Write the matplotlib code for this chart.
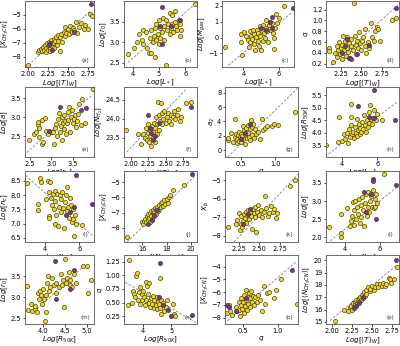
import numpy as np
import matplotlib.pyplot as plt

# ---- data (yellow = main sample, purple = highlighted) ----
# (a) [X_CH3CN] vs Log<T>_W
xa = [2.00,2.12,2.14,2.16,2.18,2.19,2.20,2.21,2.22,2.23,2.24,2.25,2.25,2.26,2.27,2.28,2.28,2.29,2.30,2.31,2.32,2.33,2.34,2.35,2.36,2.37,2.38,2.40,2.40,2.42,2.43,2.45,2.46,2.47,2.48,2.50,2.52,2.53,2.55,2.57,2.58,2.60,2.62,2.64,2.66,2.70,2.72,2.75,2.78,2.80]
ya = [-8.60,-7.65,-7.55,-7.45,-7.60,-7.30,-7.50,-7.20,-7.70,-7.40,-7.05,-7.55,-7.25,-6.95,-7.35,-7.60,-7.10,-6.80,-7.25,-7.00,-6.75,-7.40,-6.90,-6.60,-7.15,-6.45,-6.85,-7.60,-6.60,-6.35,-6.95,-6.20,-5.85,-6.55,-6.30,-6.05,-6.40,-5.80,-6.20,-5.95,-6.10,-5.50,-6.30,-5.90,-5.60,-6.00,-5.70,-5.98,-4.90,-5.05]
pxa = [2.79,2.28,2.30,2.58,2.26]
pya = [-4.20,-7.00,-7.55,-6.25,-7.20]

# (b) Log r0 vs Log L*
xb = [3.80,4.05,4.15,4.25,4.35,4.40,4.40,4.50,4.55,4.60,4.65,4.70,4.70,4.75,4.80,4.85,4.85,4.90,4.90,4.95,5.00,5.00,5.05,5.05,5.10,5.15,5.20,5.20,5.25,5.25,5.30,5.35,5.40,5.40,5.45,5.50,5.50,5.55,5.60,5.60,5.65,5.70,5.75,5.80,5.85,5.80,6.38]
yb = [2.72,2.85,3.00,3.20,3.05,2.95,3.30,3.25,2.85,2.75,3.10,3.30,2.75,3.00,3.15,2.65,3.35,3.05,3.45,3.20,2.95,3.55,3.10,3.35,3.25,3.60,3.40,3.05,2.45,3.55,3.30,3.45,3.70,3.20,3.35,3.65,3.45,3.25,3.50,3.75,3.40,3.30,3.55,3.45,3.30,3.15,3.93]
pxb = [5.10,5.10,5.80,5.05,5.45]
pyb = [3.85,2.95,3.55,3.40,3.40]

# (c) Log M_gas vs Log L*
xc = [2.95,3.85,3.85,3.95,4.05,4.15,4.25,4.30,4.35,4.40,4.45,4.50,4.55,4.60,4.60,4.65,4.70,4.75,4.80,4.85,4.90,4.95,4.95,5.00,5.05,5.10,5.10,5.15,5.20,5.25,5.30,5.35,5.40,5.45,5.50,5.55,5.60,5.65,5.70,5.75,5.80,5.85,5.90,6.00,6.30]
yc = [-0.60,-0.30,0.25,-1.10,0.35,0.10,-0.15,-0.60,0.40,-0.30,0.10,-0.10,0.45,-0.40,0.20,-0.75,0.05,0.50,-0.20,0.30,-0.50,0.10,0.70,-0.75,0.40,-0.20,0.80,0.30,0.00,0.60,1.10,0.40,-0.30,0.80,1.00,0.50,0.90,0.30,-0.70,0.00,0.60,1.50,0.90,1.20,2.00]
pxc = [6.80,5.60,5.50,5.25,5.60,5.00]
pyc = [1.85,1.30,0.95,0.45,0.60,0.60]

# (d) q vs Log<T>_W
xd = [2.11,2.11,2.15,2.18,2.20,2.21,2.22,2.23,2.24,2.25,2.26,2.27,2.28,2.29,2.30,2.31,2.32,2.33,2.34,2.35,2.36,2.37,2.38,2.40,2.41,2.42,2.43,2.44,2.45,2.46,2.47,2.48,2.50,2.51,2.52,2.54,2.55,2.56,2.58,2.60,2.62,2.63,2.65,2.67,2.69,2.71,2.73,2.88,2.92]
yd = [0.50,0.44,0.23,0.40,0.33,0.52,0.45,0.60,0.38,0.50,0.28,0.55,0.72,0.45,0.62,0.35,0.50,0.70,0.42,0.58,0.30,0.52,0.65,0.45,1.32,0.72,0.55,0.38,0.62,0.50,0.78,0.58,0.45,0.62,0.70,0.52,0.85,0.40,0.60,0.50,0.96,0.70,0.62,0.80,0.88,0.85,0.62,1.00,1.05]
pxd = [2.92,2.60,2.35,2.27,2.30,2.33,2.45,2.38]
pyd = [1.23,0.55,0.30,0.40,0.52,0.66,0.38,0.28]

# (e) Log a vs Log r0
xe = [2.47,2.60,2.65,2.68,2.68,2.70,2.72,2.77,2.79,2.80,2.85,2.88,2.92,2.98,3.03,3.05,3.08,3.10,3.12,3.15,3.17,3.20,3.22,3.24,3.25,3.27,3.30,3.30,3.32,3.34,3.36,3.38,3.40,3.42,3.44,3.46,3.48,3.50,3.52,3.55,3.58,3.60,3.62,3.65,3.70,3.73,3.78,3.97]
ye = [2.40,2.55,2.62,2.80,2.88,2.48,2.72,2.30,2.92,2.35,2.98,2.64,2.55,2.60,2.60,2.30,2.72,2.82,2.50,2.95,3.10,2.60,2.78,2.40,3.00,2.85,3.05,2.70,2.90,2.55,2.86,3.15,2.94,3.28,2.62,3.00,3.18,2.85,2.95,3.05,2.73,2.90,3.08,3.34,2.80,3.47,2.86,3.75]
pxe = [3.20,3.69,3.82,2.95]
pye = [3.27,3.20,3.25,2.65]

# (f) Log N_H2 vs Log<T>_W
xf = [1.93,2.10,2.15,2.18,2.20,2.22,2.23,2.24,2.25,2.26,2.27,2.28,2.29,2.30,2.31,2.32,2.33,2.34,2.35,2.36,2.37,2.38,2.39,2.40,2.41,2.42,2.43,2.44,2.45,2.46,2.48,2.50,2.52,2.54,2.55,2.57,2.58,2.60,2.62,2.64,2.66,2.68,2.70,2.72,2.79,2.86]
yf = [23.70,23.60,23.35,23.60,23.50,23.75,23.45,23.62,23.85,23.40,23.55,23.70,23.30,23.80,23.50,23.65,23.90,23.40,23.75,24.05,23.60,23.85,24.45,24.10,23.70,23.95,24.40,24.15,23.85,24.00,24.20,23.90,24.05,24.15,23.95,24.10,23.85,24.05,24.20,24.00,24.10,24.25,23.95,24.05,24.40,24.45]
pxf = [2.87,2.27,2.29,2.31,2.40,2.35,2.25]
pyf = [24.30,23.75,23.62,23.45,23.90,23.55,24.10]

# (g) a2 vs q
xg = [0.30,0.30,0.35,0.38,0.40,0.41,0.42,0.43,0.44,0.45,0.46,0.47,0.48,0.49,0.50,0.51,0.52,0.53,0.54,0.55,0.56,0.57,0.58,0.59,0.60,0.61,0.62,0.63,0.64,0.65,0.66,0.67,0.68,0.70,0.72,0.75,0.78,0.80,0.82,0.85,0.88,0.95,0.98,1.03,1.28]
yg = [1.40,1.70,2.40,1.20,4.40,1.80,2.30,1.00,1.60,2.10,1.30,2.60,1.80,2.30,1.10,2.00,3.30,1.60,2.80,0.80,2.20,3.10,1.70,2.40,3.50,1.90,2.90,1.40,4.20,3.20,2.10,3.60,1.70,3.00,2.20,2.60,1.50,4.40,2.80,3.10,3.30,3.40,3.60,3.50,5.30]
pxg = [0.62,0.50,0.55]
pyg = [3.70,1.60,2.40]

# (h) Log R50K vs Log L*
xh = [3.15,3.80,3.85,4.00,4.15,4.20,4.30,4.35,4.40,4.45,4.50,4.55,4.55,4.60,4.65,4.70,4.75,4.80,4.85,4.85,4.90,4.95,5.00,5.05,5.10,5.15,5.20,5.25,5.30,5.35,5.40,5.45,5.50,5.55,5.60,5.65,5.70,5.75,5.80,5.90,6.00,6.25]
yh = [3.52,3.65,4.65,3.70,3.95,3.75,4.00,3.62,4.15,3.85,4.65,4.30,5.15,3.95,4.05,3.80,4.25,4.00,4.55,3.90,4.10,4.35,3.95,4.20,4.05,4.45,4.15,4.70,4.30,4.05,4.50,4.25,4.85,4.40,5.10,4.55,4.35,4.60,4.90,4.50,4.75,4.50]
pxh = [5.82,6.95,4.92,5.78,5.50]
pyh = [5.72,4.51,5.05,4.60,4.62]

# (i) Log n_c vs Log L*
xi = [2.91,3.60,3.60,3.69,3.75,4.05,4.15,4.20,4.20,4.25,4.30,4.35,4.40,4.45,4.50,4.55,4.55,4.60,4.65,4.70,4.75,4.80,4.85,4.90,4.95,5.00,5.05,5.10,5.15,5.20,5.25,5.30,5.35,5.40,5.45,5.50,5.55,5.60,5.65,5.70,5.75,5.80,6.15]
yi = [8.41,7.70,7.48,8.62,8.45,7.85,8.50,7.25,7.20,8.10,8.45,7.90,7.65,8.05,7.50,7.00,8.15,7.80,7.30,8.05,6.90,7.60,8.00,7.40,7.85,8.10,7.55,6.85,7.75,8.00,7.45,8.30,7.60,7.20,7.90,7.65,7.05,7.50,7.15,6.55,7.30,7.00,6.95]
pxi = [5.80,6.76,5.45,5.20,5.70]
pyi = [8.70,7.70,7.40,7.30,7.60]

# (j) [X_CH3CN] vs Log N_CH3CN
xj = [14.75,15.95,16.05,16.15,16.20,16.30,16.40,16.45,16.50,16.55,16.60,16.65,16.70,16.75,16.80,16.85,16.90,16.95,17.00,17.05,17.10,17.15,17.20,17.30,17.35,17.40,17.50,17.55,17.65,17.70,17.80,17.90,18.00,18.10,18.20,18.30,18.50,19.40]
yj = [-8.60,-7.60,-7.75,-7.55,-7.40,-7.65,-7.25,-7.50,-7.10,-7.35,-7.60,-7.00,-7.20,-6.90,-7.45,-7.05,-6.80,-7.25,-6.95,-6.70,-7.10,-6.85,-6.60,-6.90,-6.50,-6.75,-6.40,-6.65,-6.30,-6.55,-6.20,-6.45,-6.10,-6.35,-6.00,-5.85,-5.50,-5.20]
pxj = [20.07,16.50,17.00,16.80,17.20]
pyj = [-4.45,-7.74,-7.16,-7.50,-6.80]

# (k) X_b vs Log<T>_W
xk = [2.12,2.21,2.23,2.25,2.26,2.27,2.28,2.29,2.30,2.31,2.32,2.33,2.34,2.35,2.36,2.37,2.38,2.40,2.41,2.42,2.43,2.44,2.45,2.46,2.47,2.48,2.50,2.52,2.53,2.55,2.57,2.58,2.60,2.62,2.64,2.66,2.68,2.70,2.72,2.87,2.93]
yk = [-7.55,-7.35,-7.15,-6.80,-7.70,-7.40,-6.95,-7.55,-7.20,-6.85,-7.05,-6.70,-7.30,-6.90,-6.60,-7.10,-6.75,-6.95,-7.65,-6.55,-6.80,-7.00,-6.45,-7.80,-6.70,-6.35,-6.90,-6.60,-7.00,-6.75,-5.85,-6.50,-6.95,-6.80,-6.40,-6.70,-6.55,-7.05,-6.80,-5.30,-5.00]
pxk = [2.38,2.36,2.30]
pyk = [-6.55,-6.85,-7.40]

# (l) Log a vs Log L*
xl = [3.11,3.81,3.81,3.81,4.10,4.30,4.35,4.40,4.45,4.50,4.55,4.60,4.65,4.70,4.75,4.80,4.85,4.90,4.95,5.00,5.05,5.10,5.15,5.20,5.25,5.30,5.35,5.40,5.45,5.50,5.55,5.60,5.65,5.70,5.75,5.80,5.85,6.25]
yl = [2.28,2.63,2.12,2.02,2.82,2.30,2.45,2.60,2.98,2.35,2.75,3.00,2.50,2.85,2.65,3.05,2.40,2.90,2.55,3.10,2.75,2.30,2.95,3.20,2.60,2.85,3.25,2.70,3.00,3.15,2.85,3.30,2.80,3.05,2.85,3.20,2.95,3.75]
pxl = [6.93,5.60,5.60,5.80,5.50,5.10,5.20]
pyl = [3.45,3.62,3.55,2.50,3.20,3.25,2.70]

# (m) Log r0 vs Log R50K
xm = [3.62,3.65,3.72,3.75,3.80,3.82,3.85,3.88,3.90,3.92,3.95,3.97,4.00,4.02,4.03,4.05,4.05,4.08,4.10,4.12,4.15,4.20,4.25,4.28,4.30,4.35,4.40,4.42,4.45,4.48,4.50,4.52,4.55,4.58,4.60,4.62,4.65,4.70,4.75,4.90,5.00,5.02,5.10]
ym = [3.27,2.70,2.85,2.68,2.72,2.80,2.65,3.10,2.95,3.15,3.05,2.85,3.20,2.95,2.45,3.05,2.65,3.35,3.50,3.15,3.25,3.45,3.30,3.10,3.35,3.25,3.55,3.30,3.40,2.78,3.90,3.35,3.45,3.60,3.30,3.40,3.25,3.55,3.35,3.75,3.75,3.10,3.40]
pxm = [4.27,4.70,4.62,4.30]
pym = [3.85,3.65,3.20,2.95]

# (n) q vs Log R50K
xn = [3.50,3.48,3.60,3.65,3.68,3.72,3.75,3.80,3.82,3.85,3.88,3.90,3.95,3.98,4.00,4.05,4.08,4.10,4.12,4.15,4.18,4.20,4.22,4.25,4.28,4.30,4.35,4.38,4.40,4.45,4.48,4.50,4.52,4.55,4.58,4.60,4.62,4.65,4.70,4.75,4.80,4.85,5.05,5.10,5.12]
yn = [1.27,0.45,0.50,0.72,0.65,0.60,0.98,1.04,0.55,0.70,0.78,0.48,0.65,0.55,0.72,0.60,0.45,0.88,0.55,0.80,0.65,0.50,0.85,0.42,0.58,0.48,0.62,0.40,0.55,0.45,0.60,0.38,0.52,0.48,0.95,0.40,0.55,0.30,0.50,0.35,0.42,0.55,0.47,0.30,0.25]
pxn = [4.60,5.72,4.88,5.00,4.55,4.70]
pyn = [1.22,0.28,0.37,0.25,0.60,0.45]

# (o) [X_CH3CN] vs q
xo = [0.27,0.30,0.32,0.35,0.40,0.42,0.44,0.45,0.46,0.47,0.48,0.49,0.50,0.51,0.52,0.53,0.54,0.55,0.56,0.57,0.58,0.59,0.60,0.61,0.62,0.63,0.64,0.66,0.68,0.70,0.72,0.75,0.78,0.80,0.82,0.85,0.88,0.95,0.98,1.05,1.27]
yo = [-7.60,-7.00,-7.50,-7.80,-7.20,-7.50,-6.80,-7.40,-7.90,-7.00,-6.50,-7.30,-6.80,-7.60,-6.20,-7.10,-6.60,-5.80,-7.40,-6.40,-6.90,-6.10,-7.20,-6.50,-5.90,-6.80,-6.30,-7.00,-6.40,-6.80,-6.20,-6.60,-7.50,-5.50,-6.90,-6.10,-6.00,-6.50,-5.80,-5.00,-6.90]
pxo = [1.20,0.27,0.30,0.40,0.55]
pyo = [-4.25,-7.05,-7.20,-7.50,-6.50]

# (p) Log N_CH3CN vs Log<T>_W
xp = [2.03,2.15,2.20,2.22,2.24,2.25,2.26,2.27,2.28,2.29,2.30,2.31,2.32,2.33,2.34,2.35,2.36,2.37,2.38,2.40,2.41,2.42,2.43,2.45,2.47,2.48,2.50,2.52,2.54,2.56,2.58,2.60,2.62,2.64,2.66,2.68,2.72,2.73,2.74,2.78,2.81]
yp = [15.10,16.00,15.90,16.20,16.30,16.00,16.50,16.20,16.60,16.35,16.80,16.45,16.70,16.90,16.55,17.05,16.80,17.20,16.95,17.40,17.10,17.60,17.30,17.80,17.50,17.70,17.90,17.60,17.85,18.05,17.80,18.10,17.95,18.20,17.90,18.10,18.60,18.45,18.20,18.50,19.48]
pxp = [2.80,2.30,2.27,2.33,2.38]
pyp = [20.05,16.30,16.15,16.60,17.00]

# dashed reference lines (x0, x1, y0, y1)
ln_a = [2.00, 2.80, -8.60, -4.65]
ln_b = [3.81, 6.38, 2.51, 3.93]
ln_c = [3.15, 6.75, -1.75, 1.60]
ln_d = [2.13, 2.95, 0.17, 1.29]
ln_e = [2.42, 3.97, 2.07, 3.60]
ln_f = [1.94, 2.78, 23.13, 24.75]
ln_g = [0.30, 1.32, -0.95, 8.60]
ln_h = [3.27, 7.09, 3.17, 5.22]
ln_i = [2.85, 6.80, 8.70, 6.55]
ln_j = [14.75, 20.30, -8.95, -4.60]
ln_k = [2.19, 2.97, -8.34, -4.68]
ln_l = [3.17, 6.96, 1.90, 3.38]
ln_m = [3.85, 4.97, 2.72, 3.78]
ln_n = [3.37, 5.90, 0.87, 0.13]
ln_o = [0.28, 1.27, -8.25, -3.60]
ln_p = [1.97, 2.81, 15.10, 19.60]

TW = r'$Log[\langle T\rangle_W]$'
LS = r'$Log[L_*]$'
XC = r'$[X_{CH_3CN}]$'
R50 = r'$Log[R_{50K}]$'

panels = [
    ('a', xa, ya, pxa, pya, ln_a, TW, XC, (1.96, 2.83), (-8.75, -4.0), [2.0, 2.25, 2.5, 2.75], [-8, -7, -6, -5], '%.2f', '%d'),
    ('b', xb, yb, pxb, pyb, ln_b, LS, r'$Log[r_0]$', (3.66, 6.45), (2.4, 4.0), [4, 5, 6], [2.5, 3.0, 3.5], '%d', '%.1f'),
    ('c', xc, yc, pxc, pyc, ln_c, LS, r'$Log[M_{gas}]$', (2.8, 6.85), (-1.85, 2.3), [4, 6], [-1, 0, 1, 2], '%d', '%d'),
    ('d', xd, yd, pxd, pyd, ln_d, TW, r'$q$', (2.07, 2.96), (0.14, 1.36), [2.25, 2.5, 2.75], [0.2, 0.4, 0.6, 0.8, 1.0, 1.2], '%.2f', '%.1f'),
    ('e', xe, ye, pxe, pye, ln_e, r'$Log[r_0]$', r'$Log[a]$', (2.38, 4.0), (1.95, 3.8), [2.5, 3.0, 3.5], [2.5, 3.0, 3.5], '%.1f', '%.1f'),
    ('f', xf, yf, pxf, pyf, ln_f, TW, r'$Log[N_{H_2}]$', (1.9, 2.95), (23.0, 24.83), [2.0, 2.25, 2.5, 2.75], [23.5, 24.0, 24.5], '%.2f', '%.1f'),
    ('g', xg, yg, pxg, pyg, ln_g, r'$q$', r'$a_2$', (0.26, 1.33), (-0.95, 8.8), [0.5, 1.0], [0, 2, 4, 6, 8], '%.1f', '%d'),
    ('h', xh, yh, pxh, pyh, ln_h, LS, R50, (3.13, 7.2), (3.05, 5.82), [4, 6], [3.5, 4.0, 4.5, 5.0, 5.5], '%d', '%.1f'),
    ('i', xi, yi, pxi, pyi, ln_i, LS, r'$Log[n_c]$', (2.82, 6.85), (6.35, 8.85), [4, 6], [6.5, 7.0, 7.5, 8.0, 8.5], '%d', '%.1f'),
    ('j', xj, yj, pxj, pyj, ln_j, r'$Log[\langle N_{CH_3CN}\rangle]$', XC, (14.5, 20.5), (-8.95, -4.25), [16, 18, 20], [-8, -7, -6, -5], '%d', '%d'),
    ('k', xk, yk, pxk, pyk, ln_k, TW, r'$X_b$', (2.08, 2.97), (-8.35, -4.5), [2.25, 2.5, 2.75], [-8, -7, -6, -5], '%.2f', '%d'),
    ('l', xl, yl, pxl, pyl, ln_l, LS, r'$Log[a]$', (2.93, 7.09), (1.87, 3.83), [4, 6], [2.0, 2.5, 3.0, 3.5], '%d', '%.1f'),
    ('m', xm, ym, pxm, pym, ln_m, R50, r'$Log[r_0]$', (3.58, 5.16), (2.37, 4.0), [4.0, 4.5, 5.0], [2.5, 3.0, 3.5], '%.1f', '%.1f'),
    ('n', xn, yn, pxn, pyn, ln_n, R50, r'$q$', (3.33, 5.9), (0.11, 1.37), [4, 5], [0.25, 0.5, 0.75, 1.0, 1.25], '%d', '%.2f'),
    ('o', xo, yo, pxo, pyo, ln_o, r'$q$', XC, (0.245, 1.29), (-8.5, -3.1), [0.5, 1.0], [-8, -7, -6, -5, -4], '%.1f', '%d'),
    ('p', xp, yp, pxp, pyp, ln_p, TW, r'$Log[\langle N_{CH_3CN}\rangle]$', (1.92, 2.84), (14.82, 20.44), [2.0, 2.25, 2.5, 2.75], [15, 16, 17, 18, 19, 20], '%.2f', '%d'),
]

# axes boxes in pixels: left, right for each column of each row; top, bottom for rows
cols = [[(25, 94), (124, 197), (222, 294), (326, 399)],
        [(25, 94), (124, 197), (225, 298), (326, 399)],
        [(25, 94), (124, 197), (225, 298), (326, 399)],
        [(25, 94), (124, 197), (225, 298), (326, 399)]]
rows = [(1, 67), (87, 157), (171, 242), (255, 324)]

W, H = 400, 346
fig = plt.figure(figsize=(W / 100, H / 100), dpi=100)

yellow = '#f5d90a'
purple = '#7b3590'

for k, p in enumerate(panels):
    lab, x, y, px, py, ln, xl_, yl_, xlim, ylim, xt, yt, xf_, yf_ = p
    r, c = divmod(k, 4)
    l, rr = cols[r][c]
    t, b = rows[r]
    ax = fig.add_axes([l / W, 1 - b / H, (rr - l) / W, (b - t) / H])
    ax.plot(ln[:2], ln[2:], ls='--', color='gray', lw=0.6, dashes=(3, 2), zorder=1)
    ax.scatter(x, y, s=9, c=yellow, edgecolors='#333333', linewidths=0.45, zorder=2)
    ax.scatter(px, py, s=9, c=purple, edgecolors='#333333', linewidths=0.45, zorder=3)
    ax.set_xlim(xlim)
    ax.set_ylim(ylim)
    ax.set_xticks(xt)
    ax.set_yticks(yt)
    ax.set_xticklabels([(xf_ % v).replace('-', '\u2212') for v in xt])
    ax.set_yticklabels([(yf_ % v).replace('-', '\u2212') for v in yt])
    ax.tick_params(labelsize=4.8, length=1.8, width=0.5, pad=0.8)
    ax.set_xlabel(xl_, fontsize=5.2, labelpad=0.3)
    ax.set_ylabel(yl_, fontsize=5.0, labelpad=0.3)
    for s in ax.spines.values():
        s.set_linewidth(0.6)
        s.set_color('#555555')
    ax.text(0.88, 0.1, '(%s)' % lab, transform=ax.transAxes, fontsize=4,
            ha='center', va='center', color='#333333')

fig.savefig('out.png', dpi=100)
